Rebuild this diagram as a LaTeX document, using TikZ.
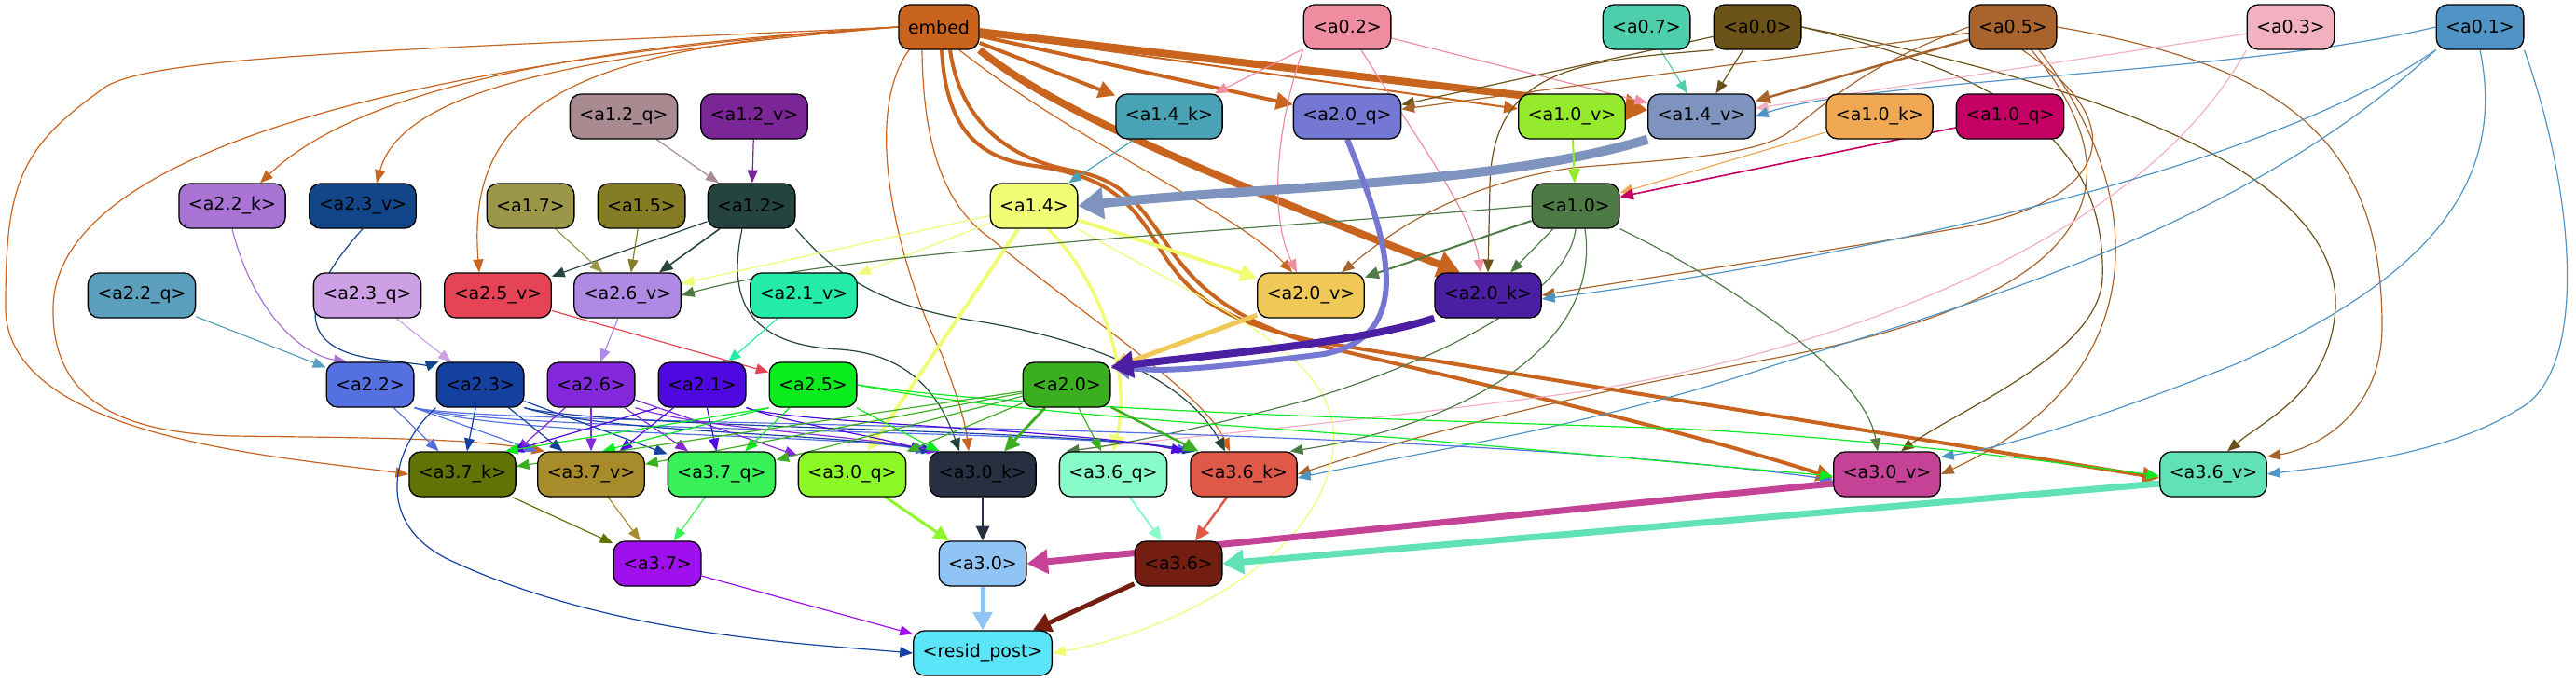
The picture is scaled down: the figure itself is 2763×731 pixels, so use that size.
\documentclass[tikz,border=0pt]{standalone}
\usepackage{fontspec}
\setmainfont{DejaVu Sans}
\usetikzlibrary{arrows.meta}
\pgfdeclarelayer{background}
\pgfsetlayers{background,main}
\definecolor{cembed}{HTML}{C8641E}
\definecolor{ca02}{HTML}{F08CA0}
\definecolor{ca07}{HTML}{4CCFAA}
\definecolor{ca00}{HTML}{6B5219}
\definecolor{ca05}{HTML}{A8642C}
\definecolor{ca03}{HTML}{F2B1C0}
\definecolor{ca01}{HTML}{4F94C4}
\definecolor{ca12q}{HTML}{A88A90}
\definecolor{ca12v}{HTML}{7B2696}
\definecolor{ca14k}{HTML}{4AA3B5}
\definecolor{ca20q}{HTML}{7478D2}
\definecolor{ca10v}{HTML}{95EA2E}
\definecolor{ca14v}{HTML}{7E94BE}
\definecolor{ca10k}{HTML}{F0A855}
\definecolor{ca10q}{HTML}{C40064}
\definecolor{ca22k}{HTML}{A974D4}
\definecolor{ca23v}{HTML}{13458A}
\definecolor{ca17}{HTML}{9B9648}
\definecolor{ca15}{HTML}{847D26}
\definecolor{ca12}{HTML}{254440}
\definecolor{ca14}{HTML}{F0FC74}
\definecolor{ca10}{HTML}{4E7A45}
\definecolor{ca22q}{HTML}{5B9FBC}
\definecolor{ca23q}{HTML}{CDA0E6}
\definecolor{ca25v}{HTML}{E44455}
\definecolor{ca26v}{HTML}{AE8AE4}
\definecolor{ca21v}{HTML}{25EBA8}
\definecolor{ca20v}{HTML}{EFC858}
\definecolor{ca20k}{HTML}{4B1FA2}
\definecolor{ca22}{HTML}{5570E0}
\definecolor{ca23}{HTML}{1440A0}
\definecolor{ca26}{HTML}{8428DC}
\definecolor{ca21}{HTML}{5008E0}
\definecolor{ca25}{HTML}{0AEC1E}
\definecolor{ca20}{HTML}{3CAF20}
\definecolor{ca37k}{HTML}{637205}
\definecolor{ca37v}{HTML}{A88C2C}
\definecolor{ca37q}{HTML}{38F058}
\definecolor{ca30q}{HTML}{8CF828}
\definecolor{ca30k}{HTML}{263040}
\definecolor{ca36q}{HTML}{88FCC8}
\definecolor{ca36k}{HTML}{E05848}
\definecolor{ca30v}{HTML}{C44396}
\definecolor{ca36v}{HTML}{60E2B5}
\definecolor{ca37}{HTML}{A010EE}
\definecolor{ca30}{HTML}{90C4F4}
\definecolor{ca36}{HTML}{731E10}
\definecolor{cresid}{HTML}{5CE5F8}
\tikzset{
  box/.style={draw=black,line width=1.3pt,rounded corners=12pt,minimum height=48pt,
    inner xsep=10pt,inner ysep=0pt,font=\fontsize{19}{22}\selectfont,text=black},
  e/.style={-{Triangle[length=12pt 1.5,width=8pt 2.5]},line width=1.2pt},
}
\begin{document}
\begin{tikzpicture}[x=1pt,y=-1pt]
\useasboundingbox (0,0) rectangle (2763,731);
% row 1
\node[box,fill=cembed] (embed) at (1007,29) {embed};
\node[box,fill=ca02] (a02) at (1445,29) {<a0.2>};
\node[box,fill=ca07] (a07) at (1766,29) {<a0.7>};
\node[box,fill=ca00] (a00) at (1885,29) {<a0.0>};
\node[box,fill=ca05] (a05) at (2159,29) {<a0.5>};
\node[box,fill=ca03] (a03) at (2457,29) {<a0.3>};
\node[box,fill=ca01] (a01) at (2660,29) {<a0.1>};
% row 2
\node[box,fill=ca12q] (a12q) at (669,125) {<a1.2\_q>};
\node[box,fill=ca12v] (a12v) at (809,125) {<a1.2\_v>};
\node[box,fill=ca14k] (a14k) at (1254,125) {<a1.4\_k>};
\node[box,fill=ca20q] (a20q) at (1445,125) {<a2.0\_q>};
\node[box,fill=ca10v] (a10v) at (1686,125) {<a1.0\_v>};
\node[box,fill=ca14v] (a14v) at (1825,125) {<a1.4\_v>};
\node[box,fill=ca10k] (a10k) at (2016,125) {<a1.0\_k>};
\node[box,fill=ca10q] (a10q) at (2156,125) {<a1.0\_q>};
% row 3
\node[box,fill=ca22k] (a22k) at (249,221) {<a2.2\_k>};
\node[box,fill=ca23v] (a23v) at (389,221) {<a2.3\_v>};
\node[box,fill=ca17] (a17) at (569,221) {<a1.7>};
\node[box,fill=ca15] (a15) at (688,221) {<a1.5>};
\node[box,fill=ca12] (a12) at (806,221) {<a1.2>};
\node[box,fill=ca14] (a14) at (1109,221) {<a1.4>};
\node[box,fill=ca10] (a10) at (1690,221) {<a1.0>};
% row 4
\node[box,fill=ca22q] (a22q) at (152,317) {<a2.2\_q>};
\node[box,fill=ca23q] (a23q) at (394,317) {<a2.3\_q>};
\node[box,fill=ca25v] (a25v) at (534,317) {<a2.5\_v>};
\node[box,fill=ca26v] (a26v) at (673,317) {<a2.6\_v>};
\node[box,fill=ca21v] (a21v) at (862,317) {<a2.1\_v>};
\node[box,fill=ca20v] (a20v) at (1406,317) {<a2.0\_v>};
\node[box,fill=ca20k] (a20k) at (1596,317) {<a2.0\_k>};
% row 5
\node[box,fill=ca22] (a22) at (397,413) {<a2.2>};
\node[box,fill=ca23] (a23) at (515,413) {<a2.3>};
\node[box,fill=ca26] (a26) at (634,413) {<a2.6>};
\node[box,fill=ca21] (a21) at (753,413) {<a2.1>};
\node[box,fill=ca25] (a25) at (872,413) {<a2.5>};
\node[box,fill=ca20] (a20) at (1144,413) {<a2.0>};
% row 6
\node[box,fill=ca37k] (a37k) at (496,509) {<a3.7\_k>};
\node[box,fill=ca37v] (a37v) at (634,509) {<a3.7\_v>};
\node[box,fill=ca37q] (a37q) at (774,509) {<a3.7\_q>};
\node[box,fill=ca30q] (a30q) at (914,509) {<a3.0\_q>};
\node[box,fill=ca30k] (a30k) at (1054,509) {<a3.0\_k>};
\node[box,fill=ca36q] (a36q) at (1194,509) {<a3.6\_q>};
\node[box,fill=ca36k] (a36k) at (1334,509) {<a3.6\_k>};
\node[box,fill=ca30v] (a30v) at (2024,509) {<a3.0\_v>};
\node[box,fill=ca36v] (a36v) at (2374,509) {<a3.6\_v>};
% row 7
\node[box,fill=ca37] (a37) at (705,605) {<a3.7>};
\node[box,fill=ca30] (a30) at (1054,605) {<a3.0>};
\node[box,fill=ca36] (a36) at (1264,605) {<a3.6>};
% row 8
\node[box,fill=cresid] (resid) at (1054,701) {<resid\_post>};

\begin{pgfonlayer}{background}
% embed
\draw[e,draw=cembed,line width=8pt] (embed) -- (a14v);
\draw[e,draw=cembed,line width=4pt] (embed) -- (a14k);
\draw[e,draw=cembed,line width=4pt] (embed) -- (a20q);
\draw[e,draw=cembed,line width=2pt] (embed) -- (a10v);
\draw[e,draw=cembed,line width=8pt] (embed.south east) .. controls (1120,110) and (1250,170) .. ([xshift=-30pt]a20k.north);
\draw[e,draw=cembed] ([xshift=22pt]embed.south) .. controls (1150,150) and (1330,230) .. ([xshift=-20pt]a20v.north);
\draw[e,draw=cembed,line width=4pt] ([xshift=12pt]embed.south) .. controls (1030,130) and (1080,170) .. (1150,183) .. controls (1200,192) and (1220,215) .. (1250,260) .. controls (1280,305) and (1320,345) .. (1420,372) .. controls (1600,415) and (1800,460) .. ([yshift=-4pt]a30v.west);
\draw[e,draw=cembed,line width=4pt] ([xshift=3pt]embed.south) .. controls (1015,140) and (1050,170) .. (1110,178) .. controls (1180,188) and (1210,210) .. (1240,260) .. controls (1270,310) and (1300,345) .. (1420,368) -- ([yshift=-4pt]a36v.west);
\draw[e,draw=cembed] ([xshift=-32pt]embed.south) .. controls (920,130) and (970,300) .. (1010,380) .. controls (1025,420) and (1035,450) .. ([xshift=-15pt]a30k.north);
\draw[e,draw=cembed] ([xshift=-18pt]embed.south) .. controls (990,150) and (1010,220) .. (1064,257) .. controls (1150,330) and (1290,420) .. ([xshift=-15pt]a36k.north);
\draw[e,draw=cembed] (embed.west) .. controls (600,50) and (380,100) .. ([xshift=30pt]a22k.north);
\draw[e,draw=cembed] (embed.west) .. controls (600,60) and (430,100) .. ([xshift=15pt]a23v.north);
\draw[e,draw=cembed] (embed.west) .. controls (600,50) and (500,120) .. ([xshift=-20pt]a25v.north);
\draw[e,draw=cembed] (embed.west) .. controls (400,55) and (150,60) .. (108,97) .. controls (20,160) and (6,200) .. (6,330) .. controls (6,470) and (300,490) .. (a37k.west);
\draw[e,draw=cembed] (embed.west) .. controls (500,60) and (60,150) .. (57,330) .. controls (55,430) and (130,465) .. (250,468) .. controls (400,470) and (500,470) .. ([xshift=8pt]a37v.north west);
% a0.2
\draw[e,draw=ca02] (a02) -- (a14k);
\draw[e,draw=ca02] (a02) -- (a14v);
\draw[e,draw=ca02] (a02.south west) .. controls (1370,130) and (1360,230) .. ([xshift=-15pt]a20v.north);
\draw[e,draw=ca02] ([xshift=15pt]a02.south) .. controls (1520,150) and (1580,230) .. ([xshift=-8pt]a20k.north);
% a0.7, a0.0
\draw[e,draw=ca07] (a07) -- (a14v);
\draw[e,draw=ca00] (a00) -- (a14v);
\draw[e,draw=ca00] (a00) -- (a20q);
\draw[e,draw=ca00] (a00.south west) .. controls (1700,65) and (1600,70) .. (1598,200) -- (a20k.north);
\draw[e,draw=ca00] (a00.east) .. controls (2150,80) and (2260,150) .. (2255,300) .. controls (2250,380) and (2100,440) .. ([xshift=15pt]a30v.north);
\draw[e,draw=ca00] (a00.east) .. controls (2300,100) and (2510,200) .. (2505,330) .. controls (2500,420) and (2430,450) .. ([xshift=15pt]a36v.north);
% a0.5
\draw[e,draw=ca05,line width=2.5pt] (a05) -- (a14v);
\draw[e,draw=ca05] (a05) -- (a20q);
\draw[e,draw=ca05] (a05.west) .. controls (2000,70) and (1960,110) .. (1917,143) .. controls (1880,168) and (1780,172) .. (1687,180) .. controls (1550,200) and (1480,260) .. ([xshift=-25pt]a20v.north east);
\draw[e,draw=ca05] ([xshift=10pt]a05.south) .. controls (2300,140) and (2250,220) .. (2100,245) .. controls (1900,280) and (1750,300) .. (a20k.east);
\draw[e,draw=ca05] ([xshift=20pt]a05.south) .. controls (2300,200) and (2250,320) .. (1900,385) .. controls (1600,440) and (1450,490) .. (a36k.east);
\draw[e,draw=ca05] ([xshift=28pt]a05.south) .. controls (2300,200) and (2320,400) .. (a30v.east);
\draw[e,draw=ca05] (a05.east) .. controls (2450,70) and (2555,150) .. (2555,350) .. controls (2555,440) and (2490,480) .. ([yshift=-6pt]a36v.north east);
% a0.3
\draw[e,draw=ca03] (a03) -- (a14v);
\draw[e,draw=ca03] (a03.south west) .. controls (2300,250) and (2000,370) .. (1700,420) .. controls (1400,460) and (1250,470) .. ([xshift=8pt]a36q.north west);
% a0.1
\draw[e,draw=ca01] (a01.west) .. controls (2400,80) and (2000,85) .. (a14v.east);
\draw[e,draw=ca01] (a01.south west) .. controls (2400,200) and (1900,290) .. ([yshift=-4pt]a20k.east);
\draw[e,draw=ca01] (a01.south west) .. controls (2400,250) and (2100,330) .. (1900,393) .. controls (1700,460) and (1500,490) .. ([yshift=-4pt]a36k.east);
\draw[e,draw=ca01] (a01.south) .. controls (2690,200) and (2600,300) .. (2400,390) .. controls (2250,450) and (2150,480) .. ([yshift=-6pt]a30v.north east);
\draw[e,draw=ca01] (a01.south east) .. controls (2760,200) and (2780,400) .. (2700,440) .. controls (2620,490) and (2500,500) .. (a36v.east);
% row 2 -> row 3
\draw[e,draw=ca12q] (a12q) -- (a12);
\draw[e,draw=ca12v] (a12v) -- (a12);
\draw[e,draw=ca14k] (a14k) -- (a14);
\draw[e,draw=ca14v,line width=10pt] (a14v.south west) .. controls (1600,200) and (1350,200) .. (a14.east);
\draw[e,draw=ca10v,line width=2pt] (a10v) -- (a10);
\draw[e,draw=ca10k] (a10k) -- (a10);
\draw[e,draw=ca10q,line width=1.6pt] (a10q) -- (a10);
% a1.2, a1.7, a1.5
\draw[e,draw=ca12] (a12) -- (a25v);
\draw[e,draw=ca12,line width=1.6pt] (a12) -- (a26v);
\draw[e,draw=ca17] (a17) -- (a26v);
\draw[e,draw=ca15] (a15) -- (a26v);
\draw[e,draw=ca12] ([xshift=-10pt]a12.south) .. controls (780,320) and (800,370) .. (900,375) .. controls (980,380) and (1010,430) .. ([xshift=-25pt]a30k.north);
\draw[e,draw=ca12] (a12.south east) .. controls (900,300) and (950,330) .. (1050,345) .. controls (1200,370) and (1280,420) .. ([xshift=-20pt]a36k.north);
% a1.4
\draw[e,draw=ca14] (a14) -- (a26v);
\draw[e,draw=ca14] (a14) -- (a21v);
\draw[e,draw=ca14,line width=4pt] (a14) -- (a20v);
\draw[e,draw=ca14,line width=4pt] (a14) -- (a30q);
\draw[e,draw=ca14,line width=3.5pt] ([xshift=15pt]a14.south) .. controls (1180,300) and (1215,400) .. (a36q.north);
\draw[e,draw=ca14] (a14.south east) .. controls (1300,330) and (1440,380) .. (1430,480) .. controls (1420,600) and (1250,680) .. (resid.east);
% a1.0
\draw[e,draw=ca10] (a10.west) .. controls (1300,250) and (900,270) .. (a26v.east);
\draw[e,draw=ca10,line width=2pt] (a10) -- (a20v);
\draw[e,draw=ca10] (a10) -- (a20k);
\draw[e,draw=ca10] (a10.south) .. controls (1680,330) and (1500,400) .. (1400,430) .. controls (1250,470) and (1180,480) .. ([xshift=8pt]a36q.north west);
\draw[e,draw=ca10] ([xshift=10pt]a10.south) .. controls (1720,380) and (1550,460) .. ([xshift=-8pt]a36k.north east);
\draw[e,draw=ca10] (a10.south east) .. controls (1850,300) and (2000,400) .. ([xshift=-10pt]a30v.north);
% row 3/4 -> row 5
\draw[e,draw=ca22q] (a22q) -- (a22);
\draw[e,draw=ca22k] (a22k.south) .. controls (270,330) and (320,380) .. ([xshift=-25pt]a22.north);
\draw[e,draw=ca23v] (a23v.south) .. controls (340,300) and (300,370) .. (400,385) .. controls (440,390) and (460,392) .. ([xshift=3pt]a23.north west);
\draw[e,draw=ca23q] (a23q) -- (a23);
\draw[e,draw=ca26v] (a26v) -- (a26);
\draw[e,draw=ca21v] (a21v) -- (a21);
\draw[e,draw=ca25v] (a25v) -- (a25);
\draw[e,draw=ca20q,line width=6pt] (a20q.south) .. controls (1490,260) and (1520,360) .. (1420,380) .. controls (1300,395) and (1250,400) .. ([yshift=-4pt]a20.north east);
\draw[e,draw=ca20v,line width=5pt] (a20v) -- (a20);
\draw[e,draw=ca20k,line width=8pt] (a20k.south west) .. controls (1450,370) and (1300,380) .. ([yshift=-6pt]a20.north east);
% row 5 -> row 6
\draw[e,draw=ca22] (a22) -- (a37k);
\draw[e,draw=ca22] (a22.south east) -- (a37v.north west);
\draw[e,draw=ca22] (a22.south east) .. controls (550,470) and (900,465) .. (a30k.north west);
\draw[e,draw=ca22] (a22.south east) .. controls (550,465) and (1150,460) .. (a36k.north west);
\draw[e,draw=ca22] (a22.south east) .. controls (550,460) and (1500,450) .. ([yshift=-6pt]a30v.west);
\draw[e,draw=ca23] (a23) -- (a37k);
\draw[e,draw=ca23] (a23) -- (a37v);
\draw[e,draw=ca23] (a23) -- (a37q);
\draw[e,draw=ca23] (a23.south east) .. controls (650,465) and (900,465) .. ([xshift=6pt]a30k.north west);
\draw[e,draw=ca23] (a23.south east) .. controls (650,460) and (1150,460) .. ([xshift=6pt]a36k.north west);
\draw[e,draw=ca23] (a23.south west) .. controls (420,480) and (400,560) .. (480,600) .. controls (650,680) and (850,690) .. (resid.west);
\draw[e,draw=ca26] (a26) -- (a37k.north east);
\draw[e,draw=ca26] (a26) -- (a37v);
\draw[e,draw=ca26] (a26) -- (a37q);
\draw[e,draw=ca26] (a26) -- (a30q);
\draw[e,draw=ca26] (a26.south east) .. controls (750,460) and (900,465) .. ([xshift=12pt]a30k.north west);
\draw[e,draw=ca21] (a21.south west) -- ([xshift=-6pt]a37k.north east);
\draw[e,draw=ca21] (a21) -- (a37v);
\draw[e,draw=ca21] (a21) -- (a37q);
\draw[e,draw=ca21] (a21.south east) .. controls (850,455) and (950,470) .. ([xshift=-6pt]a30k.north west);
\draw[e,draw=ca21] (a21.south east) .. controls (850,455) and (1150,460) .. ([xshift=-6pt]a36k.north west);
\draw[e,draw=ca25] (a25.south west) -- ([xshift=-12pt]a37k.north east);
\draw[e,draw=ca25] (a25.south west) -- ([xshift=12pt]a37v.north);
\draw[e,draw=ca25] (a25) -- (a37q);
\draw[e,draw=ca25] (a25) -- (a30k);
\draw[e,draw=ca25] (a25.east) .. controls (1050,440) and (1300,455) .. (1500,470) -- ([yshift=-2pt]a30v.west);
\draw[e,draw=ca25] (a25.east) .. controls (1100,440) and (1500,450) .. (1800,460) .. controls (2000,470) and (2200,495) .. ([yshift=-2pt]a36v.west);
\draw[e,draw=ca20] (a20) -- (a37k);
\draw[e,draw=ca20] (a20) -- (a37v);
\draw[e,draw=ca20] (a20) -- (a37q);
\draw[e,draw=ca20] (a20) -- (a30q);
\draw[e,draw=ca20,line width=3pt] (a20) -- (a30k);
\draw[e,draw=ca20] (a20) -- (a36q);
\draw[e,draw=ca20,line width=2.5pt] (a20) -- (a36k);
% row 6 -> row 7
\draw[e,draw=ca37k] (a37k) -- (a37);
\draw[e,draw=ca37v] (a37v) -- (a37);
\draw[e,draw=ca37q] (a37q) -- (a37);
\draw[e,draw=ca30q,line width=3pt] (a30q) -- (a30);
\draw[e,draw=ca30k,line width=2.5pt] (a30k) -- (a30);
\draw[e,draw=ca30v,line width=7pt] ([yshift=-10pt]a30v.west) -- (a30.east);
\draw[e,draw=ca36q,line width=2pt] (a36q) -- (a36);
\draw[e,draw=ca36k,line width=2.5pt] (a36k) -- (a36);
\draw[e,draw=ca36v,line width=7pt] ([yshift=-10pt]a36v.west) -- (a36.east);
% row 7 -> resid
\draw[e,draw=ca37] (a37) -- (resid);
\draw[e,draw=ca30,line width=5pt] (a30) -- (resid);
\draw[e,draw=ca36,line width=5pt] (a36) -- (resid);
\end{pgfonlayer}
\end{tikzpicture}
\end{document}
